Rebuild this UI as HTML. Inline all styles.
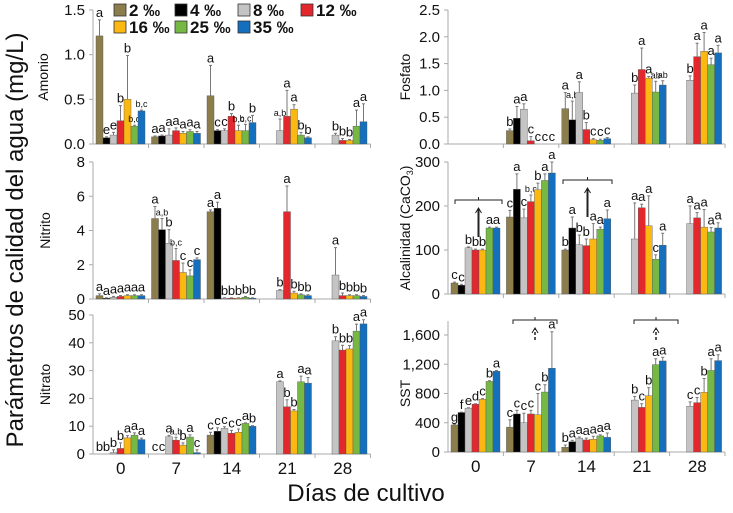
<!DOCTYPE html>
<html><head><meta charset="utf-8"><style>
body{margin:0;background:#fff}
svg text{font-family:"Liberation Sans",Arial,sans-serif}
</style></head><body>
<svg id="chart" width="733" height="508" viewBox="0 0 733 508" xmlns="http://www.w3.org/2000/svg">
<text x="0" y="0" transform="translate(23,240) rotate(-90)" text-anchor="middle" font-size="24" fill="#111">Parámetros de calidad del agua (mg/L)</text>
<text x="366" y="501" text-anchor="middle" font-size="24" fill="#111">Días de cultivo</text>
<g id="legend"></g>
<g id="plots"></g>
</svg>
<script>
const days = ["0","7","14","21","28"];
const series = ["2 ‰","4 ‰","8 ‰","12 ‰","16 ‰","25 ‰","35 ‰"];
const colors = ["#8c7d4c","#000000","#c4c4c4","#e2282c","#fbb812","#75b944","#1470bf"];
const N = null;
// Amonio
const amonioVals = [[1.21,0.07,0.1,0.26,0.5,0.2,0.37],[0.08,0.09,0.1,0.15,0.12,0.14,0.12],[0.54,0.15,0.15,0.31,0.15,0.15,0.24],[N,N,0.15,0.31,0.39,0.1,0.07],[N,N,0.1,0.04,0.04,0.2,0.25]];
const amonioErr = [[0.18,0.01,0.03,0.17,0.49,0.01,0.01],[0.01,0.01,0.07,0.03,0.02,0.02,0.02],[0.34,0.01,0.02,0.03,0.06,0.07,0.08],[N,N,0.13,0.29,0.05,0.03,0.01],[N,N,0.02,0.02,0.01,0.18,0.2]];
const amonioLbl = [["a","e","e","b","b","b,d","b,c"],["a","a","a","a","a","a","a"],["a","c","c","b","b,c","b,c","b"],["","","a,b","a","a","b","b"],["","","b","b","b","a","a"]];
// Nitrito
const nitritoVals = [[0.2,0.05,0.1,0.15,0.2,0.2,0.2],[4.7,4.05,3.25,2.25,1.55,1.35,2.3],[5.1,5.3,0.05,0.05,0.05,0.1,0.05],[N,N,0.5,5.1,0.35,0.25,0.2],[N,N,1.4,0.2,0.2,0.2,0.15]];
const nitritoErr = [[0.1,0.02,0.05,0.05,0.05,0.05,0.05],[0.7,0.65,0.8,0.7,0.55,0.35,0.1],[0.1,0.35,0.02,0.02,0.02,0.05,0.02],[N,N,0.05,1.5,0.1,0.05,0.05],[N,N,1.6,0.15,0.05,0.05,0.05]];
const nitritoLbl = [["a","a","a","a","a","a","a"],["a","a,b","b","b,c","c","c","c"],["a","a","b","b","b","b","b"],["","","b","a","b","b","b"],["","","a","b","b","b","b"]];
// Nitrato
const nitratoVals = [[0,0,0.5,2,5.8,6.8,5.2],[0,0,6.2,5,3.2,6.1,0.5],[6.8,8.2,9.2,7.5,7.8,11,10],[N,N,26,17,15.5,26,25.5],[N,N,40.7,37.4,37.8,44.2,46.8]];
const nitratoErr = [[0,0,1,2,0.8,0.8,0.5],[0,0,0.5,1,0.8,0.8,1],[1,1.2,0.6,1,1.2,0.2,0.2],[N,N,0.3,2.5,0.5,2,2],[N,N,1.5,1.7,1.2,2.5,1.5]];
const nitratoLbl = [["b","b","b","b","a","a","a"],["c","c","a","a,b","b","a","c"],["c","c","c","c","c","a","b"],["","","a","b","b","a","a"],["","","b","b","b","a","a"]];
// Fosfato
const fosfatoVals = [[N,N,N,N,N,N,N],[0.25,0.48,0.65,0.06,0,0,0],[0.66,0.45,0.96,0.27,0.08,0.07,0.1],[N,N,0.95,1.39,1.23,0.97,1.1],[N,N,1.19,1.63,1.73,1.48,1.7]];
const fosfatoErr = [[N,N,N,N,N,N,N],[0.03,0.22,0.1,0.08,0,0,0],[0.3,0.35,0.2,0.13,0.02,0.02,0.02],[N,N,0.15,0.4,0.03,0.2,0.08],[N,N,0.08,0.25,0.35,0.12,0.14]];
const fosfatoLbl = [["","","","","","",""],["b","a","a","c","c","c","c"],["a","a,b","a","b","c","c","c"],["","","b","a","a","ab","ab"],["","","b","a","a","a","a"]];
// Alcalinidad
const alcalVals = [[25,20,105,100,100,150,150],[175,238,173,210,237,258,275],[100,150,112,110,125,147,171],[N,N,125,196,155,79,111],[N,N,160,173,152,141,150]];
const alcalErr = [[2,2,2,2,2,2,2],[15,35,20,15,15,15,25],[2,25,22,15,35,5,20],[N,N,82,8,68,10,27],[N,N,40,12,40,10,12]];
const alcalLbl = [["c","c","b","b","b","a","a"],["c","a","c","b,c","b","a","a"],["b","a","b","b","a","a","a"],["","","a","a","a","c","a"],["","","a","a","a","a","a"]];
// SST
const sstVals = [[370,540,600,655,720,965,1105],[340,520,400,520,510,820,1145],[65,140,190,165,175,220,200],[N,N,710,610,770,1195,1245],[N,N,625,675,815,1115,1250]];
const sstErr = [[5,5,5,5,10,10,10],[100,50,130,50,290,100,500],[30,20,15,25,40,15,60],[N,N,50,50,110,80,50],[N,N,60,70,190,160,80]];
const sstLbl = [["g","f","e","d","c","b","a"],["c","c","c","c","c","b","a"],["b","a","a","a","a","a","a"],["","","b","c","b","a","a"],["","","c","c","b","a","a"]];
const amonioTicks = [0,0.5,1.0,1.5];
const nitritoTicks = [0,2,4,6,8];
const nitratoTicks = [0,10,20,30,40,50];
const fosfatoTicks = [0,0.5,1.0,1.5,2.0,2.5];
const alcalTicks = [0,100,200,300];
const sstTicks = [0,400,800,1200,1600];

const NS="http://www.w3.org/2000/svg";
function mk(tag,attrs,parent,txt){const e=document.createElementNS(NS,tag);for(const k in attrs)e.setAttribute(k,attrs[k]);if(txt!=null)e.textContent=txt;parent.appendChild(e);return e;}
const root=document.getElementById('plots');

const panels=[
 {key:"amonio",title:"Amonio",vals:amonioVals,err:amonioErr,lbl:amonioLbl,ticks:amonioTicks,x0:93,gw:55.5,base:144,max:1.5,top:10,axTop:10,fmt:v=>v.toFixed(1),tx:48,xl:false},
 {key:"nitrito",title:"Nitrito",vals:nitritoVals,err:nitritoErr,lbl:nitritoLbl,ticks:nitritoTicks,x0:93,gw:55.5,base:299,max:8,top:162,axTop:162,fmt:v=>String(v),tx:50,xl:false},
 {key:"nitrato",title:"Nitrato",vals:nitratoVals,err:nitratoErr,lbl:nitratoLbl,ticks:nitratoTicks,x0:93,gw:55.5,base:454,max:50,top:315,axTop:315,fmt:v=>String(v),tx:50,xl:true},
 {key:"fosfato",title:"Fosfato",vals:fosfatoVals,err:fosfatoErr,lbl:fosfatoLbl,ticks:fosfatoTicks,x0:448,gw:55.4,base:144,max:2.5,top:10,axTop:10,fmt:v=>v.toFixed(1),tx:410,xl:false},
 {key:"alcalinidad",title:"Alcalinidad (CaCO",vals:alcalVals,err:alcalErr,lbl:alcalLbl,ticks:alcalTicks,x0:448,gw:55.4,base:294,max:300,top:162,axTop:162,fmt:v=>String(v),tx:410,xl:false},
 {key:"sst",title:"SST",vals:sstVals,err:sstErr,lbl:sstLbl,ticks:sstTicks,x0:448,gw:55.4,base:452,max:1600,top:335,axTop:321,fmt:v=>v.toLocaleString('en-US'),tx:410,xl:true}
];

panels.forEach(p=>{
 const g=mk('g',{},root);
 
 
 const y=v=>p.base-(v/p.max)*(p.base-p.top);
 const x1=p.x0+p.gw*5;
 const ax=mk('line',{x1:p.x0,x2:p.x0,y1:p.axTop,y2:p.base,stroke:'#aaa','stroke-width':1},g);
 
 
 const bx=mk('line',{x1:p.x0,x2:x1,y1:p.base,y2:p.base,stroke:'#aaa','stroke-width':1},g);
 
 
 for(let i=1;i<=5;i++)mk('line',{x1:p.x0+i*p.gw,x2:p.x0+i*p.gw,y1:p.base,y2:p.base+4,stroke:'#aaa'},g);
 p.ticks.forEach(t=>{
  mk('line',{x1:p.x0-4,x2:p.x0,y1:y(t),y2:y(t),stroke:'#aaa'},g);
  const tl=mk('text',{x:p.x0-8,y:y(t)+5,'text-anchor':'end','font-size':15,fill:'#111'},g,p.fmt(t));
  
  
 });
 const mid=(p.top+p.base)/2;
 const tt=mk('text',{transform:`translate(${p.tx},${mid}) rotate(-90)`,'text-anchor':'middle','font-size':14,fill:'#111'},g,p.title);
 if(p.key==='alcalinidad'){mk('tspan',{'font-size':9,dy:3},tt,'3');mk('tspan',{dy:-3},tt,')');}
 
 
 if(p.xl){days.forEach((d,i)=>{
  const xl=mk('text',{x:p.x0+(i+0.5)*p.gw,y:p.base+20,'text-anchor':'middle','font-size':17,fill:'#111'},g,d);
  
  
 });}
 p.vals.forEach((grp,gi)=>{
  grp.forEach((v,si)=>{
   if(v==null)return;
   const bxp=p.x0+gi*p.gw+3+si*7;
   const yt=y(v);
   const r=mk('rect',{x:bxp,y:yt,width:7,height:Math.max(0,p.base-yt),fill:colors[si],stroke:'#555','stroke-width':0.4},g);
   
   
   const e=p.err[gi][si]||0;
   const ye=y(v+e);
   if(e>0){mk('line',{x1:bxp+3.5,x2:bxp+3.5,y1:yt,y2:ye,stroke:'#777','stroke-width':1},g);mk('line',{x1:bxp+2,x2:bxp+5,y1:ye,y2:ye,stroke:'#777','stroke-width':1},g);}
   const L=p.lbl[gi][si];
   if(L){const lt=mk('text',{x:bxp+3.5,y:ye-3,'text-anchor':'middle','font-size':L.length>1?9:13,fill:'#111'},g,L);
    
    }
  });
 });
});

function bracket(x1,x2,yb,ya,dashed,name){
 const g=mk('g',{stroke:'#222',fill:'none','stroke-width':1},root);
 
 
 const xm=(x1+x2)/2;
 mk('path',{d:`M${x1},${yb+4} L${x1},${yb} L${x2},${yb} L${x2},${yb+4} M${xm},${yb} L${xm},${yb-3}`},g);
 mk('line',{x1:xm,x2:xm,y1:ya,y2:yb+9,'stroke-width':dashed?1.5:2,'stroke-dasharray':dashed?'3,2':'none'},g);
 mk('path',{d:`M${xm-3},${yb+13} L${xm},${yb+8} L${xm+3},${yb+13}`},g);
}
bracket(455,502,200,237,false,'alcalinidad-bracket-day0');
bracket(563,612,180,217,false,'alcalinidad-bracket-day14');
bracket(513,557,320,340,true,'sst-bracket-day7');
bracket(634,678,320,340,true,'sst-bracket-day21');

const lg=document.getElementById('legend');
const lpos=[[121,16],[182,16],[245,16],[308,16],[121,33],[182,33],[245,33]];
series.forEach((s,i)=>{
 const [lx,ly]=lpos[i];
 const r=mk('rect',{x:lx-7,y:ly-12,width:12,height:12,fill:colors[i],stroke:'#333','stroke-width':0.8},lg);
 
 
 const t=mk('text',{x:lx+8,y:ly,'font-size':17,'font-weight':'bold',fill:'#111'},lg,s);
 
 
});
</script>
</body></html>
